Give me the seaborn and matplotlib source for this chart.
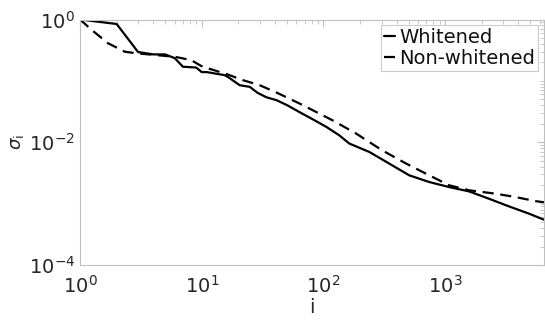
import numpy as np
import pandas as pd
import matplotlib
matplotlib.use("Agg")
import matplotlib.pyplot as plt
import seaborn as sns
from matplotlib.ticker import LogLocator, FixedLocator, NullFormatter

# Data
white_i = [1, 2, 3, 4, 5, 6, 7, 9, 10, 11, 15.4, 16.4, 20.5, 24.8, 28.7, 34.0, 41.1, 50.5,
           63.5, 81.2, 105.5, 134.7, 163, 238, 347, 507, 739, 1078, 1573, 2294, 3347, 4884, 6480]
white_s = [1.0, 0.845, 0.295, 0.27, 0.27, 0.235, 0.17, 0.165, 0.139, 0.139, 0.124, 0.116, 0.085,
           0.080, 0.064, 0.054, 0.0485, 0.040, 0.031, 0.0238, 0.0178, 0.0130, 0.00953, 0.00695,
           0.00449, 0.00289, 0.00225, 0.00186, 0.00158, 0.00120, 0.00090, 0.000686, 0.000547]
nonw_i = [1, 1.25, 1.70, 2.34, 2.99, 6, 8.2, 9.6, 10.2, 16, 21.7, 29.9, 41, 63.5, 87.5, 118,
          185, 303, 478, 739, 1078, 1573, 2600, 3780, 5500, 6480]
nonw_s = [1.0, 0.674, 0.41, 0.298, 0.28, 0.247, 0.218, 0.181, 0.17, 0.129, 0.103, 0.085, 0.0648,
          0.0428, 0.031, 0.0229, 0.0139, 0.0074, 0.00449, 0.00289, 0.00199, 0.00165, 0.00145,
          0.00128, 0.0011, 0.00105]

df = pd.concat([
    pd.DataFrame({"i": white_i, "s": white_s, "series": "Whitened"}),
    pd.DataFrame({"i": nonw_i, "s": nonw_s, "series": "Non-whitened"}),
])

sns.set_style("white")
plt.rcParams['font.family'] = ['DejaVu Sans']

fig = plt.figure(figsize=(5.45, 3.2), dpi=100)
ax = fig.add_axes([80/545, 1-265/320, (544-80)/545, (265-19.5)/320])

sns.lineplot(data=df, x="i", y="s", style="series", hue="series",
             palette={"Whitened": "black", "Non-whitened": "black"},
             dashes={"Whitened": "", "Non-whitened": (5, 3)},
             linewidth=1.6, sort=False, estimator=None, ax=ax)

ax.set_xscale("log")
ax.set_yscale("log")
ax.set_xlim(1, 6480)
ax.set_ylim(1e-4, 1)

ax.yaxis.set_major_locator(FixedLocator([1e-4, 1e-2, 1]))
ax.yaxis.set_minor_locator(LogLocator(base=10, subs=np.arange(1, 10)))
ax.yaxis.set_minor_formatter(NullFormatter())
ax.xaxis.set_minor_locator(LogLocator(base=10, subs=np.arange(2, 10)))
ax.xaxis.set_minor_formatter(NullFormatter())

grey = "#bfbfbf"
for sp in ax.spines.values():
    sp.set_color(grey)
    sp.set_linewidth(0.8)
ax.tick_params(which="both", direction="in", top=True, right=True, color=grey,
               labelsize=14, labelcolor="#262626")
ax.tick_params(which="major", length=5, width=0.8)
ax.tick_params(which="minor", length=3, width=0.6)
ax.tick_params(axis="x", which="major", pad=7)

ax.set_xlabel("i", fontsize=14, color="#262626", labelpad=1)
ax.set_ylabel(r"$\sigma_{\mathrm{i}}$", fontsize=13, color="#262626", labelpad=2)

leg = ax.legend(loc="upper right", fontsize=14, handlelength=0.6, handletextpad=0.2,
                borderpad=0.15, labelspacing=0.1, frameon=True, fancybox=False,
                borderaxespad=0.3)
leg.get_frame().set_edgecolor(grey)
leg.get_frame().set_linewidth(0.8)
for t in leg.get_texts():
    t.set_color("#111111")

fig.savefig("out.png", dpi=100)
